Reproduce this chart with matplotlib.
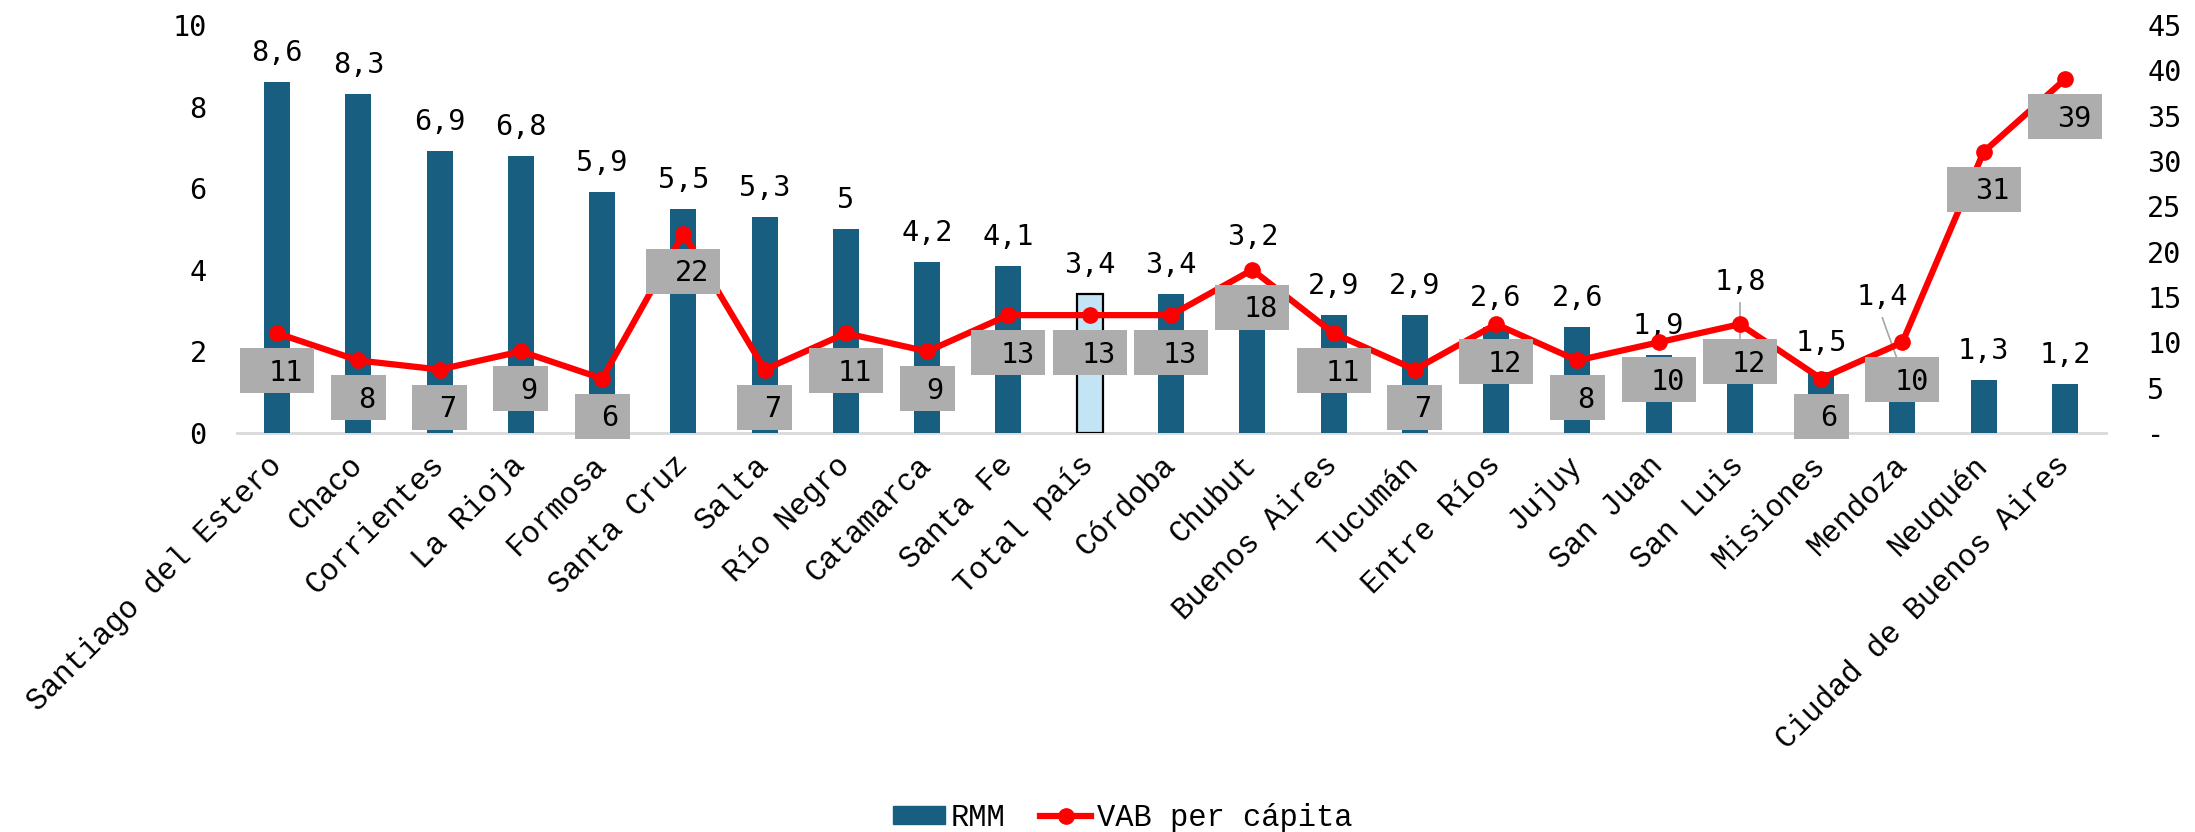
import numpy as np
import matplotlib.pyplot as plt
from matplotlib.patches import Rectangle, Patch
from matplotlib.lines import Line2D
from matplotlib.transforms import ScaledTranslation

provincias = ["Santiago del Estero", "Chaco", "Corrientes", "La Rioja", "Formosa",
              "Santa Cruz", "Salta", "Río Negro", "Catamarca", "Santa Fe",
              "Total país", "Córdoba", "Chubut", "Buenos Aires", "Tucumán",
              "Entre Ríos", "Jujuy", "San Juan", "San Luis", "Misiones",
              "Mendoza", "Neuquén", "Ciudad de Buenos Aires"]
rmm = [8.6, 8.3, 6.9, 6.8, 5.9, 5.5, 5.3, 5.0, 4.2, 4.1, 3.4, 3.4, 3.2,
       2.9, 2.9, 2.6, 2.6, 1.9, 1.8, 1.5, 1.4, 1.3, 1.2]
vab = [11, 8, 7, 9, 6, 22, 7, 11, 9, 13, 13, 13, 18, 11, 7, 12, 8, 10,
       12, 6, 10, 31, 39]
total_idx = 10

BAR = "#175E80"
TOTAL = "#C3E4F5"
RED = "#FF0000"
BOX = "#ADADAD"

NUM_FONT = ["DejaVu Sans Mono"]
TXT_FONT = ["Liberation Mono", "Courier New", "DejaVu Sans Mono"]
NUM_SIZE = 20.5
TXT_SIZE = 22

fig = plt.figure(figsize=(21.95, 8.32), dpi=100)
ax = fig.add_axes([236.5 / 2195, 1 - 433 / 832, 1869 / 2195, 408 / 832])
ax2 = ax.twinx()

x = np.arange(len(provincias))
colors = [TOTAL if i == total_idx else BAR for i in x]
edges = ["black" if i == total_idx else BAR for i in x]
ax.bar(x, rmm, width=0.32, color=colors, edgecolor=edges,
       linewidth=[1.6 if i == total_idx else 0 for i in x], zorder=2)
ax.set_xlim(-0.5, len(provincias) - 0.5)
ax.set_ylim(0, 10)
ax.set_yticks(range(0, 11, 2))
ax.set_yticklabels([str(v) for v in range(0, 11, 2)], fontfamily=NUM_FONT, fontsize=NUM_SIZE)
ax.tick_params(axis="y", length=0, pad=21.5)
ax.set_xticks(x)
ax.set_xticklabels(provincias, rotation=45, ha="right", va="center", rotation_mode="anchor",
                   fontfamily=TXT_FONT, fontsize=TXT_SIZE)
ax.tick_params(axis="x", length=0, pad=20)
for s in ["top", "left", "right"]:
    ax.spines[s].set_visible(False)
ax.spines["bottom"].set_color("#D9D9D9")
ax.spines["bottom"].set_linewidth(2)
ax.spines["bottom"].set_zorder(1)

# etiquetas de barras: (dx, dy) en pixeles del centro del texto sobre la barra
bar_off = {12: (0, 67), 18: (0, 80), 20: (-20, 81)}
lead_end = {12: (0, 44), 18: (0, 22), 20: (-6, 19)}
for i, v in enumerate(rmm):
    dx, dy = bar_off.get(i, (0, 31))
    lab = f"{v:g}".replace(".", ",")
    tr = ScaledTranslation(i, v, ax.transData)
    ax.text(dx, dy - 10, lab, transform=tr, ha="center", va="baseline",
            fontfamily=NUM_FONT, fontsize=NUM_SIZE, zorder=5)
    if i in lead_end:
        ex, ey = lead_end[i]
        ax.add_line(Line2D([dx, ex], [dy - 23, ey], transform=tr, color="#A6A6A6",
                           linewidth=1.2, zorder=1))

ax2.plot(x, vab, color=RED, linewidth=4.5, marker="o", markersize=11, zorder=3)
ax2.set_ylim(0, 45)
ax2.set_yticks(range(0, 46, 5))
ax2.set_yticklabels(["-"] + [str(v) for v in range(5, 46, 5)],
                    fontfamily=NUM_FONT, fontsize=NUM_SIZE)
ax2.tick_params(axis="y", length=0, pad=30)
for s in ax2.spines.values():
    s.set_visible(False)

# cajas grises de VAB per cápita, debajo de cada punto
for i, v in enumerate(vab):
    lab = str(v)
    w = 74 if len(lab) > 1 else 55
    h = 45
    tr = ScaledTranslation(i, v, ax2.transData)
    ax2.add_patch(Rectangle((-w / 2, -15 - h), w, h, transform=tr, facecolor=BOX,
                            edgecolor="none", zorder=6, clip_on=False))
    ax2.text(w / 2 - 11, -15 - h / 2 - 10, lab, transform=tr, ha="right", va="baseline",
             fontfamily=NUM_FONT, fontsize=NUM_SIZE, zorder=7)

handles = [Patch(color=BAR),
           Line2D([0], [0], color=RED, linewidth=4.5, marker="o", markersize=11)]
fig.legend(handles, ["RMM", "VAB per cápita"], loc="center",
           bbox_to_anchor=(1123 / 2195, 1 - 818 / 832), ncol=2, frameon=False,
           prop={"family": TXT_FONT, "size": TXT_SIZE}, handlelength=1.68,
           handleheight=0.55, handletextpad=0.2, columnspacing=1.13)

fig.savefig("out.png", dpi=100)
